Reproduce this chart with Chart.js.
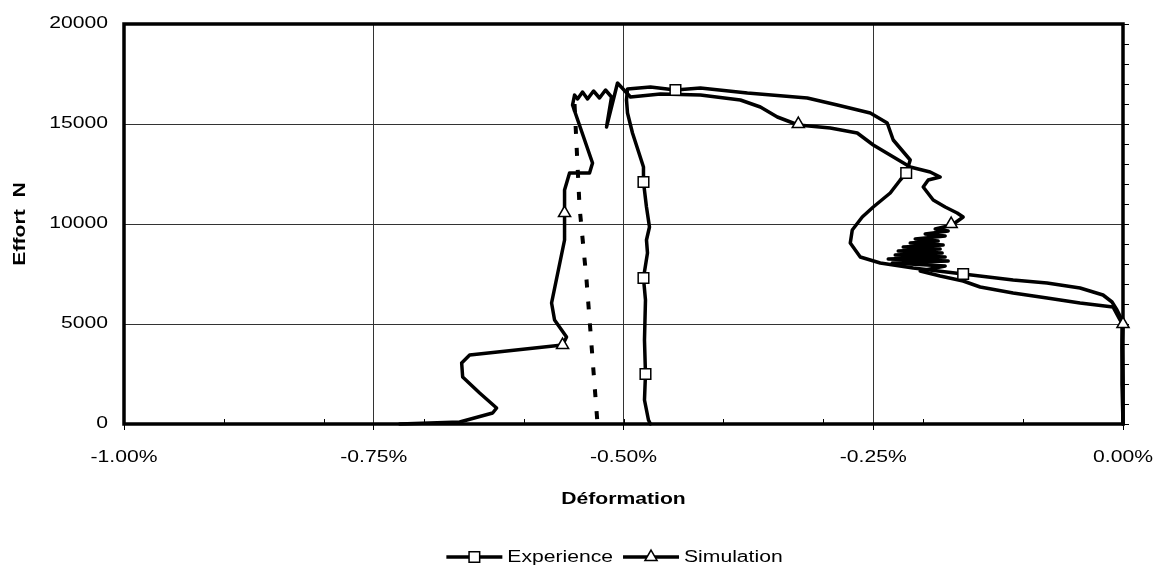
<!DOCTYPE html>
<html>
<head>
<meta charset="utf-8">
<title>Effort / Déformation</title>
<script src="https://cdn.jsdelivr.net/npm/chart.js@4.4.1/dist/chart.umd.min.js"></script>
<style>
    html, body { margin: 0; padding: 0; background: #fff; }
    #chart { display: block; }
</style>
</head>
<body>
<canvas id="chart" width="1156" height="568"></canvas>
<script>
// deformation in %, effort in N
const expX = [0, 0, -0.001, -0.001, -0.006, -0.011, -0.020, -0.043, -0.076, -0.110,
    -0.160, -0.210, -0.243, -0.263, -0.273, -0.271, -0.261, -0.250, -0.233, -0.223,
    -0.217, -0.213, -0.230, -0.236, -0.253, -0.286, -0.316, -0.376, -0.423, -0.448,
    -0.473, -0.496, -0.497, -0.496, -0.491, -0.480, -0.480, -0.477, -0.474, -0.477,
    -0.476, -0.480, -0.478, -0.479, -0.478, -0.479, -0.475, -0.473];
const expY = [0, 2200, 4200, 5200, 5700, 6100, 6450, 6800, 7050, 7200,
    7500, 7800, 8050, 8350, 9050, 9700, 10350, 10850, 11550, 12200,
    12550, 13200, 14200, 15050, 15550, 15950, 16300, 16550, 16800, 16700,
    16850, 16750, 16200, 15550, 14550, 12850, 12100, 10850, 9850, 9200,
    8550, 7300, 6200, 4200, 2500, 1200, 200, 0];

const simX = [0, -0.001, -0.001, 0, -0.003, -0.010, -0.043, -0.076, -0.110, -0.143,
    -0.160, -0.183, -0.203, -0.178, -0.231, -0.175, -0.235, -0.178, -0.228, -0.181,
    -0.225, -0.183, -0.220, -0.180, -0.213, -0.185, -0.208, -0.178, -0.198, -0.175,
    -0.188, -0.171, -0.160, -0.166, -0.178, -0.190, -0.200, -0.195, -0.183, -0.193,
    -0.213, -0.250, -0.266, -0.293, -0.325, -0.346, -0.363, -0.383, -0.423, -0.463,
    -0.493, -0.506, -0.517, -0.512, -0.518, -0.524, -0.530, -0.536, -0.541, -0.546,
    -0.549, -0.551, -0.531, -0.534, -0.554, -0.559, -0.559, -0.559, -0.572, -0.569,
    -0.557, -0.561, -0.654, -0.662, -0.661, -0.644, -0.627, -0.631, -0.664, -0.724];
const simY = [0, 2000, 3850, 5000, 5200, 5850, 6050, 6300, 6550, 6850,
    7150, 7400, 7650, 7900, 8050, 8150, 8250, 8350, 8450, 8550,
    8650, 8750, 8850, 8950, 9050, 9150, 9250, 9400, 9500, 9650,
    9750, 9950, 10350, 10550, 10850, 11200, 11850, 12200, 12350, 12600,
    12850, 13950, 14550, 14800, 14950, 15350, 15850, 16200, 16450, 16500,
    16350, 17050, 14850, 16350, 16700, 16300, 16650, 16250, 16600, 16250,
    16450, 15950, 13050, 12550, 12550, 11700, 10550, 9200, 6050, 5200,
    4350, 3950, 3450, 3050, 2350, 1550, 800, 550, 100, 0];

// marker positions (Excel only shows a few markers per curve)
const expMarkX = [-0.478, -0.480, -0.480, -0.448, -0.217, -0.160];
const expMarkY = [2500, 7300, 12100, 16700, 12550, 7500];
const simMarkX = [0, -0.172, -0.325, -0.559, -0.561];
const simMarkY = [5000, 10000, 15000, 10550, 3950];

// dashed unloading line
const dashX = [-0.549, -0.544, -0.537, -0.526];
const dashY = [16000, 10850, 7200, 0];

const xTicks = [-1, -0.75, -0.5, -0.25, 0];
const yTicks = [0, 5000, 10000, 15000, 20000];
const xMinor = [-0.9, -0.8, -0.7, -0.6, -0.5, -0.4, -0.3, -0.2, -0.1];
const yMinor = [0, 1000, 2000, 3000, 4000, 5000, 6000, 7000, 8000, 9000, 10000,
    11000, 12000, 13000, 14000, 15000, 16000, 17000, 18000, 19000, 20000];

const FONT = '"Liberation Sans", Arial, sans-serif';
const TEXT_STRETCH = 1.32; // excel export draws its text wide

function pts(xs, ys) {
    return xs.map((x, i) => ({ x: x, y: ys[i] }));
}

const stretchText = {
    id: 'stretchText',
    beforeInit(chart) {
        const ctx = chart.ctx;
        const fill = ctx.fillText.bind(ctx);
        const measure = ctx.measureText.bind(ctx);
        ctx.fillText = (text, x, y) => {
            ctx.save();
            ctx.translate(x, y);
            ctx.scale(TEXT_STRETCH, 1);
            fill(text, 0, 0);
            ctx.restore();
        };
        ctx.measureText = (text) => {
            const m = measure(text);
            return {
                width: m.width * TEXT_STRETCH,
                actualBoundingBoxAscent: m.actualBoundingBoxAscent,
                actualBoundingBoxDescent: m.actualBoundingBoxDescent
            };
        };
    }
};

const plotFrame = {
    id: 'plotFrame',
    beforeDatasetsDraw(chart) {
        const { ctx, chartArea: a, scales } = chart;
        ctx.save();
        ctx.strokeStyle = '#000';
        ctx.lineWidth = 1;
        ctx.beginPath();
        xMinor.forEach((v) => {
            const px = Math.round(scales.x.getPixelForValue(v)) + 0.5;
            ctx.moveTo(px, a.bottom);
            ctx.lineTo(px, a.bottom - 5);
        });
        yMinor.forEach((v) => {
            const py = Math.round(scales.y.getPixelForValue(v)) + 0.5;
            ctx.moveTo(a.right, py);
            ctx.lineTo(a.right + 6, py);
        });
        ctx.stroke();
        ctx.lineWidth = 3.5;
        ctx.strokeRect(a.left, a.top, a.right - a.left, a.bottom - a.top);
        ctx.restore();
    }
};

function drawMarker(ctx, style, x, y, r) {
    ctx.beginPath();
    if (style === 'rect') {
        const s = r * Math.SQRT1_2;
        ctx.rect(x - s, y - s, 2 * s, 2 * s);
    } else {
        ctx.moveTo(x, y - r);
        ctx.lineTo(x + r * 0.866, y + r / 2);
        ctx.lineTo(x - r * 0.866, y + r / 2);
        ctx.closePath();
    }
    ctx.fillStyle = '#fff';
    ctx.fill();
    ctx.lineWidth = 1.5;
    ctx.strokeStyle = '#000';
    ctx.stroke();
}

const excelLegend = {
    id: 'excelLegend',
    afterDraw(chart) {
        const { ctx, chartArea: a } = chart;
        const items = [
            { label: 'Experience', style: 'rect', r: 7.5 },
            { label: 'Simulation', style: 'triangle', r: 7 }
        ];
        const sample = 56;
        ctx.save();
        ctx.font = '16px ' + FONT;
        ctx.textBaseline = 'middle';
        ctx.textAlign = 'left';
        const widths = items.map((it) => ctx.measureText(it.label).width);
        const total = items.length * (sample + 5) + widths.reduce((s, w) => s + w, 0) + 10 * (items.length - 1);
        let x = (a.left + a.right) / 2 - 9 - total / 2;
        const y = chart.height - 11;
        items.forEach((it, i) => {
            ctx.strokeStyle = '#000';
            ctx.lineWidth = 3.5;
            ctx.beginPath();
            ctx.moveTo(x, y);
            ctx.lineTo(x + sample, y);
            ctx.stroke();
            drawMarker(ctx, it.style, x + sample / 2, y, it.r);
            ctx.fillStyle = '#000';
            ctx.fillText(it.label, x + sample + 5, y + 1);
            x += sample + 5 + widths[i] + 10;
        });
        ctx.restore();
    }
};

const lineStyle = {
    showLine: true,
    borderColor: '#000',
    borderWidth: 3.5,
    borderJoinStyle: 'round',
    borderCapStyle: 'round',
    pointRadius: 0,
    pointHoverRadius: 0,
    clip: 6
};

new Chart(document.getElementById('chart'), {
    type: 'scatter',
    data: {
        datasets: [
            {
                label: 'Experience',
                data: pts(expMarkX, expMarkY),
                showLine: false,
                pointStyle: 'rect',
                pointRadius: 7.5,
                pointHoverRadius: 7.5,
                pointBackgroundColor: '#fff',
                pointBorderColor: '#000',
                pointBorderWidth: 1.5,
                clip: 10
            },
            {
                label: 'Simulation',
                data: pts(simMarkX, simMarkY),
                showLine: false,
                pointStyle: 'triangle',
                pointRadius: 7,
                pointHoverRadius: 7,
                pointBackgroundColor: '#fff',
                pointBorderColor: '#000',
                pointBorderWidth: 1.5,
                clip: 10
            },
            Object.assign({ label: 'Experience', data: pts(expX, expY) }, lineStyle),
            Object.assign({ label: 'Simulation', data: pts(simX, simY) }, lineStyle),
            Object.assign({ label: 'Calcul', data: pts(dashX, dashY) }, lineStyle,
                { borderWidth: 4, borderDash: [8, 14], borderCapStyle: 'butt' })
        ]
    },
    options: {
        responsive: false,
        animation: false,
        devicePixelRatio: 1,
        events: [],
        layout: { padding: { left: 0, right: 33, top: 24, bottom: 44 } },
        plugins: {
            legend: { display: false },
            tooltip: { enabled: false }
        },
        scales: {
            x: {
                type: 'linear',
                min: -1,
                max: 0,
                afterBuildTicks: (s) => { s.ticks = xTicks.map((v) => ({ value: v })); },
                afterFit: (s) => {
                    s.height = 100;
                    s.paddingLeft = 0;
                    s.paddingRight = 0;
                },
                border: { display: false },
                grid: { color: '#333', lineWidth: 1, tickLength: 6, tickColor: '#000' },
                ticks: {
                    color: '#000',
                    padding: 18,
                    maxRotation: 0,
                    font: { family: FONT, size: 16 },
                    callback: (v) => Number(v).toFixed(2) + '%'
                },
                title: {
                    display: true,
                    text: 'Déformation',
                    color: '#000',
                    font: { family: FONT, size: 16, weight: 'bold' },
                    padding: { top: 0, bottom: 15 }
                }
            },
            y: {
                type: 'linear',
                min: 0,
                max: 20000,
                afterBuildTicks: (s) => { s.ticks = yTicks.map((v) => ({ value: v })); },
                afterFit: (s) => {
                    s.width = 124;
                    s.paddingTop = 0;
                    s.paddingBottom = 0;
                },
                border: { display: false },
                grid: { color: '#333', lineWidth: 1, drawTicks: false },
                ticks: {
                    color: '#000',
                    padding: 16,
                    font: { family: FONT, size: 16 },
                    callback: (v) => String(v)
                },
                title: {
                    display: true,
                    text: 'Effort  N',
                    color: '#000',
                    font: { family: FONT, size: 16, weight: 'bold' },
                    padding: { top: 11, bottom: 0 }
                }
            }
        }
    },
    plugins: [stretchText, plotFrame, excelLegend]
});
</script>
</body>
</html>
